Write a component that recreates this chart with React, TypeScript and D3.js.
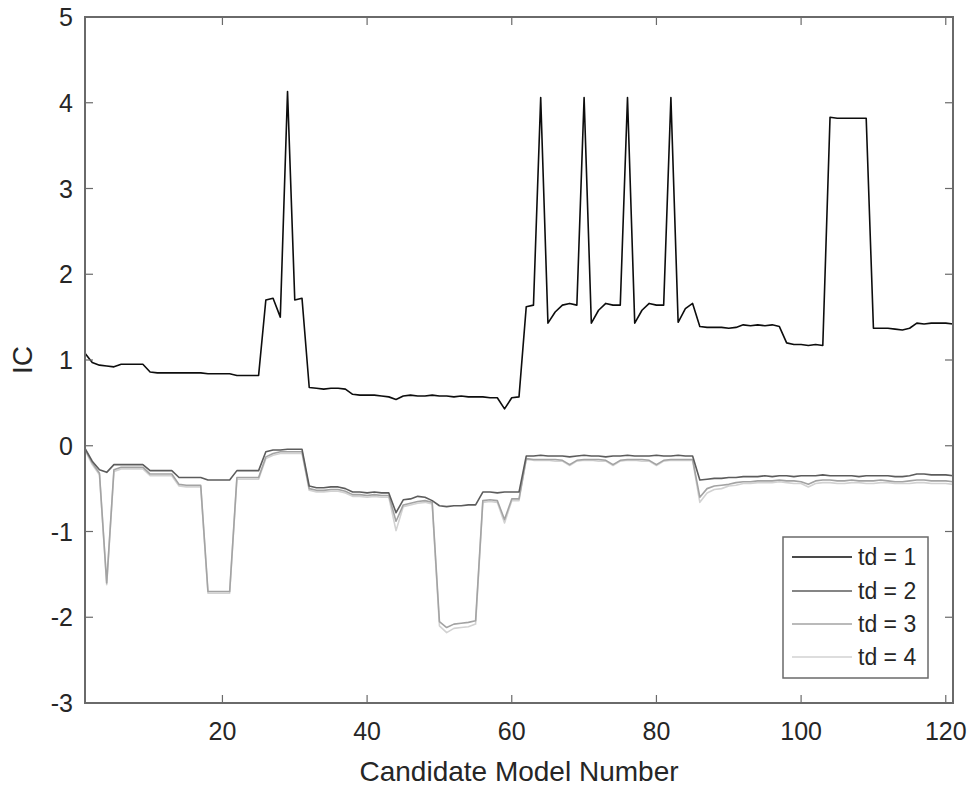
import React from "react";
import * as d3 from "d3";

const td1: number[] = [
  1.08, 0.97, 0.94, 0.93, 0.92, 0.95, 0.95, 0.95, 0.95, 0.86,
  0.85, 0.85, 0.85, 0.85, 0.85, 0.85, 0.85, 0.84, 0.84, 0.84,
  0.84, 0.82, 0.82, 0.82, 0.82, 1.70, 1.72, 1.50, 4.13, 1.70,
  1.72, 0.68, 0.67, 0.66, 0.67, 0.67, 0.66, 0.60, 0.59, 0.59,
  0.59, 0.58, 0.57, 0.54, 0.58, 0.59, 0.58, 0.58, 0.59, 0.58,
  0.58, 0.57, 0.58, 0.57, 0.57, 0.57, 0.56, 0.56, 0.43, 0.56,
  0.57, 1.62, 1.64, 4.06, 1.43, 1.56, 1.64, 1.66, 1.64, 4.06,
  1.43, 1.58, 1.66, 1.64, 1.64, 4.06, 1.43, 1.58, 1.66, 1.64,
  1.64, 4.06, 1.44, 1.60, 1.66, 1.39, 1.38, 1.38, 1.38, 1.37,
  1.38, 1.41, 1.40, 1.41, 1.40, 1.41, 1.39, 1.20, 1.18, 1.18,
  1.17, 1.18, 1.17, 3.83, 3.82, 3.82, 3.82, 3.82, 3.82, 1.37,
  1.37, 1.37, 1.36, 1.35, 1.37, 1.43, 1.42, 1.43, 1.43, 1.43, 1.42,
];

const td2: number[] = [
  -0.03, -0.18, -0.28, -0.31, -0.22, -0.22, -0.22, -0.22, -0.22, -0.29,
  -0.29, -0.29, -0.29, -0.37, -0.37, -0.37, -0.37, -0.40, -0.40, -0.40,
  -0.40, -0.29, -0.29, -0.29, -0.29, -0.07, -0.05, -0.05, -0.04, -0.04,
  -0.04, -0.47, -0.49, -0.49, -0.48, -0.48, -0.50, -0.54, -0.54, -0.55,
  -0.54, -0.55, -0.55, -0.78, -0.63, -0.62, -0.59, -0.60, -0.64, -0.70,
  -0.71, -0.70, -0.70, -0.69, -0.69, -0.54, -0.54, -0.55, -0.54, -0.54,
  -0.54, -0.12, -0.12, -0.11, -0.12, -0.12, -0.12, -0.13, -0.12, -0.11,
  -0.12, -0.12, -0.13, -0.12, -0.12, -0.11, -0.12, -0.12, -0.12, -0.11,
  -0.12, -0.12, -0.11, -0.12, -0.12, -0.40, -0.39, -0.38, -0.38, -0.37,
  -0.37, -0.36, -0.36, -0.36, -0.35, -0.36, -0.35, -0.35, -0.36, -0.35,
  -0.35, -0.35, -0.34, -0.35, -0.35, -0.35, -0.35, -0.36, -0.35, -0.35,
  -0.35, -0.35, -0.36, -0.36, -0.35, -0.33, -0.33, -0.34, -0.34, -0.34, -0.35,
];

const td3: number[] = [
  -0.04, -0.20, -0.32, -1.60, -0.28, -0.25, -0.25, -0.25, -0.25, -0.33,
  -0.33, -0.33, -0.33, -0.45, -0.46, -0.46, -0.46, -1.70, -1.70, -1.70,
  -1.70, -0.37, -0.37, -0.37, -0.37, -0.13, -0.09, -0.07, -0.07, -0.07,
  -0.07, -0.50, -0.52, -0.52, -0.51, -0.51, -0.53, -0.57, -0.57, -0.58,
  -0.57, -0.58, -0.58, -0.88, -0.69, -0.67, -0.65, -0.64, -0.66, -2.05,
  -2.12, -2.08, -2.07, -2.06, -2.04, -0.64, -0.63, -0.64, -0.86, -0.62,
  -0.62, -0.15, -0.16, -0.16, -0.16, -0.16, -0.17, -0.22, -0.17, -0.16,
  -0.16, -0.16, -0.17, -0.22, -0.17, -0.16, -0.16, -0.16, -0.17, -0.22,
  -0.17, -0.16, -0.16, -0.16, -0.16, -0.60, -0.50, -0.47, -0.46, -0.45,
  -0.43, -0.42, -0.42, -0.41, -0.41, -0.41, -0.40, -0.41, -0.41, -0.42,
  -0.45, -0.41, -0.40, -0.40, -0.41, -0.41, -0.40, -0.41, -0.41, -0.41,
  -0.40, -0.41, -0.42, -0.42, -0.41, -0.40, -0.40, -0.41, -0.41, -0.41, -0.42,
];

const td4: number[] = [
  -0.05, -0.22, -0.34, -1.62, -0.30, -0.27, -0.27, -0.27, -0.27, -0.35,
  -0.35, -0.35, -0.35, -0.47, -0.48, -0.48, -0.48, -1.72, -1.72, -1.72,
  -1.72, -0.39, -0.39, -0.39, -0.39, -0.15, -0.11, -0.09, -0.09, -0.09,
  -0.09, -0.52, -0.54, -0.54, -0.53, -0.53, -0.55, -0.59, -0.59, -0.60,
  -0.59, -0.60, -0.60, -0.99, -0.71, -0.69, -0.67, -0.66, -0.68, -2.10,
  -2.18, -2.13, -2.12, -2.11, -2.08, -0.66, -0.65, -0.66, -0.90, -0.64,
  -0.64, -0.16, -0.17, -0.17, -0.17, -0.18, -0.18, -0.23, -0.18, -0.17,
  -0.17, -0.18, -0.18, -0.23, -0.18, -0.17, -0.17, -0.18, -0.18, -0.23,
  -0.18, -0.17, -0.17, -0.17, -0.17, -0.66, -0.55, -0.51, -0.50, -0.47,
  -0.46, -0.44, -0.44, -0.43, -0.43, -0.43, -0.42, -0.43, -0.44, -0.44,
  -0.48, -0.44, -0.43, -0.43, -0.44, -0.44, -0.43, -0.43, -0.44, -0.44,
  -0.43, -0.43, -0.44, -0.44, -0.44, -0.43, -0.43, -0.44, -0.44, -0.44, -0.45,
];

const seriesNames = ["td = 1", "td = 2", "td = 3", "td = 4"];
const seriesData = [td1, td2, td3, td4];
const seriesColors = ["#0d0d0d", "#5c5c5c", "#a3a3a3", "#d2d2d2"];

const xTicks = [20, 40, 60, 80, 100, 120];
const yTicks = [-3, -2, -1, 0, 1, 2, 3, 4, 5];

const W = 972;
const H = 789;
const L = 85, T = 17, R = 953, B = 703;
const FONT = "'Liberation Sans', Arial, Helvetica, sans-serif";
const TXT = "#262626";

export default function App() {
  const x = d3.scaleLinear().domain([1, 121]).range([L, R]);
  const y = d3.scaleLinear().domain([-3, 5]).range([B, T]);
  const line = d3
    .line<number>()
    .x((_, i) => x(i + 1))
    .y((d) => y(d));

  const tickLen = 8;
  const axisColor = "#6a6a6a";

  const legX = 783, legY = 537, legW = 145, legH = 141;
  const rowYs = [557, 591, 624, 657];

  return (
    <svg
      width={W}
      height={H}
      style={{ position: "absolute", left: 0, top: 0, background: "#fff" }}
      fontFamily={FONT}
    >
      <rect x={0} y={0} width={W} height={H} fill="#fff" />
      {[3, 2, 1, 0].map((k) => (
        <path
          key={k}
          d={line(seriesData[k]) || ""}
          fill="none"
          stroke={seriesColors[k]}
          strokeWidth={1.6}
          strokeLinejoin="round"
        />
      ))}
      {xTicks.map((t) => (
        <g key={"xt" + t}>
          <line x1={x(t)} x2={x(t)} y1={B} y2={B - tickLen} stroke={axisColor} strokeWidth={1.2} />
          <line x1={x(t)} x2={x(t)} y1={T} y2={T + tickLen} stroke={axisColor} strokeWidth={1.2} />
          <text x={x(t)} y={740} textAnchor="middle" fontSize={25} fill={TXT}>
            {t}
          </text>
        </g>
      ))}
      {yTicks.map((t) => (
        <g key={"yt" + t}>
          <line x1={L} x2={L + tickLen} y1={y(t)} y2={y(t)} stroke={axisColor} strokeWidth={1.2} />
          <line x1={R} x2={R - tickLen} y1={y(t)} y2={y(t)} stroke={axisColor} strokeWidth={1.2} />
          <text x={73} y={y(t)} dy="0.36em" textAnchor="end" fontSize={25} fill={TXT}>
            {t}
          </text>
        </g>
      ))}
      <rect x={L} y={T} width={R - L} height={B - T} fill="none" stroke={axisColor} strokeWidth={2} />
      <text x={(L + R) / 2} y={781} textAnchor="middle" fontSize={28} fill={TXT}>
        Candidate Model Number
      </text>
      <text
        transform={`translate(32, ${(T + B) / 2}) rotate(-90)`}
        textAnchor="middle"
        fontSize={28}
        fill={TXT}
      >
        IC
      </text>
      <rect x={legX} y={legY} width={legW} height={legH} fill="#fff" stroke={axisColor} strokeWidth={1.5} />
      {seriesNames.map((n, k) => (
        <g key={n}>
          <line x1={792} x2={852} y1={rowYs[k]} y2={rowYs[k]} stroke={seriesColors[k]} strokeWidth={1.6} />
          <text x={858} y={rowYs[k]} dy="0.36em" fontSize={23} fill={TXT}>
            {n}
          </text>
        </g>
      ))}
    </svg>
  );
}
